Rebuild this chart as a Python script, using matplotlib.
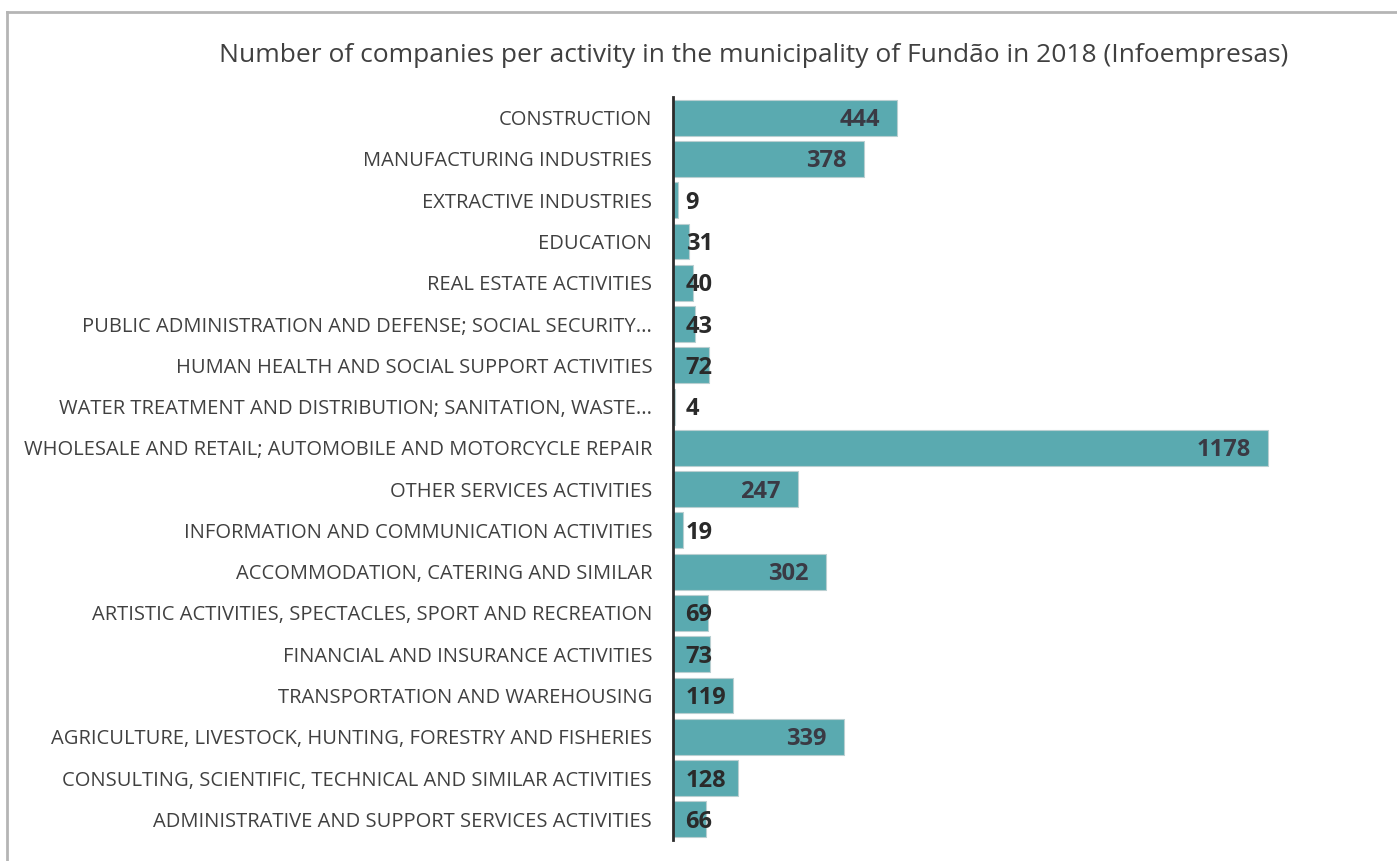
import matplotlib
matplotlib.use('Agg')
import matplotlib.pyplot as plt
from matplotlib.lines import Line2D

plt.rcParams['font.family'] = ['Open Sans', 'DejaVu Sans']

categories = [
    'CONSTRUCTION',
    'MANUFACTURING INDUSTRIES',
    'EXTRACTIVE INDUSTRIES',
    'EDUCATION',
    'REAL ESTATE ACTIVITIES',
    'PUBLIC ADMINISTRATION AND DEFENSE; SOCIAL SECURITY...',
    'HUMAN HEALTH AND SOCIAL SUPPORT ACTIVITIES',
    'WATER TREATMENT AND DISTRIBUTION; SANITATION, WASTE...',
    'WHOLESALE AND RETAIL; AUTOMOBILE AND MOTORCYCLE REPAIR',
    'OTHER SERVICES ACTIVITIES',
    'INFORMATION AND COMMUNICATION ACTIVITIES',
    'ACCOMMODATION, CATERING AND SIMILAR',
    'ARTISTIC ACTIVITIES, SPECTACLES, SPORT AND RECREATION',
    'FINANCIAL AND INSURANCE ACTIVITIES',
    'TRANSPORTATION AND WAREHOUSING',
    'AGRICULTURE, LIVESTOCK, HUNTING, FORESTRY AND FISHERIES',
    'CONSULTING, SCIENTIFIC, TECHNICAL AND SIMILAR ACTIVITIES',
    'ADMINISTRATIVE AND SUPPORT SERVICES ACTIVITIES',
]
counts = [444, 378, 9, 31, 40, 43, 72, 4, 1178, 247, 19, 302, 69, 73, 119, 339, 128, 66]

title = 'Number of companies per activity in the municipality of Fundão in 2018 (Infoempresas)'

W, H = 1397, 861
fig = plt.figure(figsize=(W / 100, H / 100), dpi=100)

# axes placed so that the y axis line sits at x=673px, rows from y=97 to 840
ax = fig.add_axes([673 / W, (H - 840) / H, 700 / W, 743 / H])
px_per_unit = 0.505
ax.set_xlim(0, 700 / px_per_unit)
ax.set_ylim(len(categories) - 0.5, -0.5)

y = list(range(len(categories)))
ax.barh(y, counts, height=0.87, color='#5aaab0', edgecolor='#b9cfd1', linewidth=0.8)

# value labels: inside the bar end for long bars, just right of the axis for short ones
for i, v in enumerate(counts):
    if v >= 200:
        ax.text(v - 34, i + 0.06, str(v), ha='right', va='center', fontsize=17,
                fontweight='bold', color='#3a3a44')
    else:
        ax.text(25, i + 0.06, str(v), ha='left', va='center', fontsize=17,
                fontweight='bold', color='#2a2a2a')

ax.set_yticks(y)
ax.set_yticklabels(categories, fontsize=14.5, color='#404040')
ax.tick_params(axis='y', length=0, pad=15)
ax.set_xticks([])
for s in ['top', 'right', 'bottom']:
    ax.spines[s].set_visible(False)
ax.spines['left'].set_color('#2b2b2b')
ax.spines['left'].set_linewidth(2)

fig.text(754 / W, 1 - 55 / H, title, ha='center', va='center', fontsize=19, color='#404040')

# gray frame around the chart
fig.add_artist(Line2D([7 / W, 1], [1 - 12 / H, 1 - 12 / H], color='#b5b5b5', lw=2))
fig.add_artist(Line2D([7 / W, 7 / W], [0, 1 - 12 / H], color='#b5b5b5', lw=2))

fig.savefig('out.png', dpi=100)
